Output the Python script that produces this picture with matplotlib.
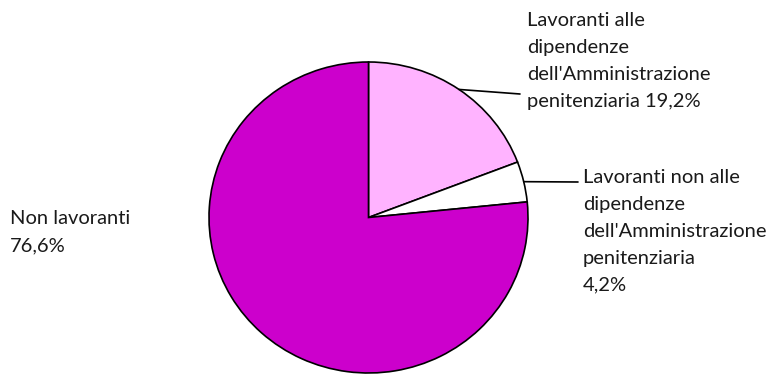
import matplotlib
matplotlib.use("Agg")
import matplotlib.pyplot as plt
import numpy as np

# ---------- DATA ----------
labels = [
    "Lavoranti alle\ndipendenze\ndell'Amministrazione\npenitenziaria 19,2%",
    "Lavoranti non alle\ndipendenze\ndell'Amministrazione\npenitenziaria\n4,2%",
    "Non lavoranti\n76,6%",
]
values = [19.2, 4.2, 76.6]
colors = ["#FFB3FF", "#FFFFFF", "#CC00CC"]

W, H = 771, 375
fig = plt.figure(figsize=(W / 100, H / 100), dpi=100)

# pie axes placed in pixel terms (left, right, top, bottom)
pl, pr, pt, pb = 209, 528, 62, 373
ax = fig.add_axes([pl / W, (H - pb) / H, (pr - pl) / W, (pb - pt) / H])

wedges, _ = ax.pie(values, colors=colors, startangle=90, counterclock=False,
                   wedgeprops=dict(edgecolor="black", linewidth=1.2))
ax.set_aspect("auto")
ax.set_xlim(-1, 1)
ax.set_ylim(-1, 1)
ax.axis("off")

# ---------- LABELS ----------
font = dict(family="Lato", fontsize=14.5, color="#1a1a1a", linespacing=1.71)
text_pos = [(527, 12), (583, 169), (10, 210)]   # pixel, top-left
line_end = [(520, 94), (578, 182), None]

for w, lab, (tx, ty), le in zip(wedges, labels, text_pos, line_end):
    fig.text(tx / W, 1 - ty / H, lab, ha="left", va="top", **font)
    if le is None:
        continue
    ang = np.deg2rad((w.theta1 + w.theta2) / 2)
    ax.annotate("", xy=(np.cos(ang), np.sin(ang)), xycoords="data",
                xytext=(le[0], H - le[1]), textcoords="figure pixels",
                arrowprops=dict(arrowstyle="-", color="black", lw=1.2,
                                shrinkA=0, shrinkB=0))

fig.savefig("out.png", dpi=100)
